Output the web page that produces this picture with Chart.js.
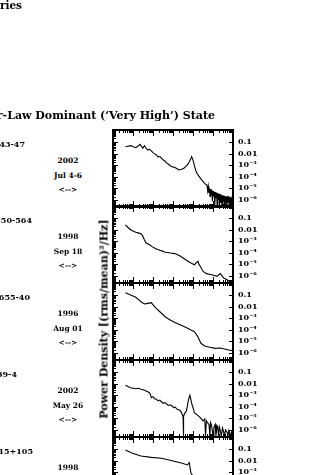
<!DOCTYPE html>
<html>
<head>
<meta charset="utf-8">
<script src="https://cdn.jsdelivr.net/npm/chart.js@4.4.1/dist/chart.umd.min.js"></script>
<style>
  body { margin: 0; background: #fff; width: 309px; height: 475px; overflow: hidden; position: relative;
         font-family: "DejaVu Serif", serif; font-weight: bold; color: #000; }
  canvas { position: absolute; }
  .t { position: absolute; white-space: nowrap; line-height: 1; }
</style>
</head>
<body>
<script>
// frequency (Hz) / power density values
const X_MIN = 1e-3, X_MAX = 1e3;
const Y_MIN = 2.5e-7, Y_MAX = 1.08;
const yTickVals = [0.1, 0.01, 1e-3, 1e-4, 1e-5, 1e-6];
const yTickLabels = ['0.1', '0.01', '10⁻³', '10⁻⁴', '10⁻⁵', '10⁻⁶'];

const obsYears = ['2002', '1998', '1996', '2002', '1998'];
const obsDays = ['Jul 4-6', 'Sep 18', 'Aug 01', 'May 26', ''];
const sources = ['4U 1543-47', 'XTE J1550-564', 'GRO J1655-40', 'GX 339-4', 'GRS 1915+105'];

// right column spectra
const p1Freq = [0.0042, 0.0055, 0.0076, 0.010, 0.0137, 0.018, 0.023, 0.027, 0.031, 0.037, 0.045, 0.055, 0.065, 0.082, 0.1, 0.12, 0.149, 0.18, 0.22, 0.27, 0.33, 0.4, 0.49, 0.6, 0.73, 0.89, 1.1, 1.32, 1.6, 1.97, 2.4, 2.9, 3.5, 4.3, 5.3, 6.5, 7.5, 8.5, 9.5, 10.5, 12, 14.3, 17, 21, 26, 32, 39, 45,
    50, 54, 58, 62, 66, 71, 76, 81, 87, 93, 100, 107, 115, 123, 132, 141, 151, 162, 174, 186, 200, 214, 229, 245, 263, 282, 302, 324, 347, 372, 398, 427, 457, 490, 525, 562, 603, 646, 692, 741, 794, 851, 912, 977];
const p1Pow = [0.039, 0.043, 0.048, 0.040, 0.032, 0.045, 0.063, 0.040, 0.029, 0.048, 0.030, 0.020, 0.024, 0.017, 0.012, 0.0095, 0.0076, 0.0050, 0.0058, 0.0039, 0.0028, 0.0022, 0.0015, 0.0012, 0.0009, 7.4e-4, 6.8e-4, 6.1e-4, 5.0e-4, 3.9e-4, 4.2e-4, 4.7e-4, 5.5e-4, 7.4e-4, 1.1e-3, 2.0e-3, 3.2e-3, 5.4e-3, 3.5e-3, 2.0e-3, 8e-4, 2.8e-4, 1.6e-4, 1.0e-4, 6e-5, 3.8e-5, 2.6e-5, 2.2e-5,
    1.8e-5, 6e-6, 1.5e-5, 4e-6, 1.1e-5, 2e-6, 9e-6, 3e-6, 8e-6, 8e-7, 6e-6, 2e-6, 5e-6, 3.5e-7, 5e-6, 1.5e-6, 4e-6, 3e-7, 4e-6, 1e-6, 3.5e-6, 3e-7, 3e-6, 6e-7, 3e-6, 3e-7, 2.5e-6, 8e-7, 2.5e-6, 3e-7, 2.2e-6, 5e-7, 2e-6, 3e-7, 2.2e-6, 6e-7, 2e-6, 3e-7, 1.8e-6, 4e-7, 2e-6, 3e-7, 1.5e-6, 5e-7];

const p2Freq = [0.0042, 0.0055, 0.0076, 0.010, 0.0137, 0.018, 0.025, 0.030, 0.037, 0.045, 0.067, 0.09, 0.12, 0.16, 0.22, 0.30, 0.40, 0.55, 0.73, 1.0, 1.32, 1.8, 2.4, 3.2, 4.3, 5.8, 7.9, 11.8, 14, 17.5, 20, 23, 32, 47, 85, 120, 155, 232, 343, 508, 760];
const p2Pow = [0.026, 0.016, 0.0098, 0.0075, 0.0058, 0.0052, 0.0044, 0.0030, 0.00135, 7e-4, 5e-4, 3.4e-4, 2.6e-4, 2.0e-4, 1.64e-4, 1.4e-4, 1.1e-4, 1.05e-4, 9.6e-5, 9.0e-5, 8.4e-5, 6.5e-5, 5e-5, 3.6e-5, 2.5e-5, 1.8e-5, 1.3e-5, 9.4e-6, 1.3e-5, 1.85e-5, 1.0e-5, 6.9e-6, 2.5e-6, 1.6e-6, 1.3e-6, 1.1e-6, 9.3e-7, 1.6e-6, 6.7e-7, 4.8e-7, 2.9e-7];

const p3Freq = [0.0042, 0.0076, 0.0137, 0.019, 0.025, 0.037, 0.055, 0.082, 0.12, 0.16, 0.22, 0.30, 0.40, 0.55, 0.73, 1.32, 2.4, 4.3, 7.9, 11.8, 17.5, 25, 38, 70, 128, 232, 420, 617, 910];
const p3Pow = [0.158, 0.1, 0.063, 0.04, 0.026, 0.0168, 0.019, 0.0217, 0.0098, 0.0060, 0.0036, 0.0022, 0.00134, 9.5e-4, 7e-4, 4.1e-4, 2.6e-4, 1.64e-4, 9.6e-5, 6.9e-5, 2.5e-5, 6.9e-6, 4.0e-6, 3.1e-6, 2.5e-6, 2.7e-6, 2.1e-6, 1.8e-6, 1.6e-6];

const p4Freq = [0.0042, 0.0076, 0.0137, 0.018, 0.025, 0.033, 0.045, 0.055, 0.067, 0.075, 0.082, 0.1, 0.12, 0.149, 0.18, 0.22, 0.27, 0.33, 0.4, 0.49, 0.6, 0.73, 0.89, 1.1, 1.3, 1.6, 1.97, 2.4, 3.0, 3.2, 3.3, 3.45, 4.0, 4.7, 6.0, 7.0, 8.9, 11.8, 17.5, 23, 32, 39, 42, 47, 55, 63, 70, 75, 85, 100, 110, 128, 140, 160, 175, 190, 210, 230, 260, 300, 330, 380, 420, 500, 560, 620, 700, 760, 850, 920];
const p4Pow = [0.0071, 0.0044, 0.0036, 0.0040, 0.0032, 0.0030, 0.0023, 0.0020, 0.00164, 0.0011, 6.1e-4, 7.5e-4, 5.0e-4, 4.4e-4, 3.2e-4, 3.8e-4, 2.6e-4, 2.0e-4, 2.3e-4, 1.64e-4, 1.3e-4, 1.5e-4, 1.17e-4, 8.5e-5, 9.5e-5, 6.1e-5, 5.5e-5, 4.4e-5, 2.0e-5, 1.15e-5, 2.2e-7, 1.6e-5, 3.0e-5, 4.4e-5, 4.4e-4, 9.8e-4, 1.64e-4, 3.1e-5, 1.85e-5, 1.15e-5, 6.0e-6, 9e-6, 3e-7, 6e-6, 4e-6, 3.1e-6, 3e-7, 4.3e-6, 2.5e-6, 3e-7, 1.6e-6, 3e-6, 3e-7, 2.2e-6, 1.4e-6, 3e-7, 1.8e-6, 1e-6, 3e-7, 1.5e-6, 8e-7, 3e-7, 1e-6, 6.7e-7, 3e-7, 9e-7, 5e-7, 2.5e-7, 6.7e-7, 4e-7];

const p5Freq = [0.0042, 0.0093, 0.025, 0.082, 0.27, 0.89, 2.9, 5.3, 6.5, 7.9, 12, 20, 50, 100, 300, 900];
const p5Pow = [0.082, 0.043, 0.025, 0.019, 0.0158, 0.0098, 0.0058, 0.0042, 0.0066, 8.5e-4, 3e-4, 1e-4, 2e-5, 5e-6, 1e-6, 5e-7];

// left column spectra (only the high-frequency tails fall inside the picture)
const l1Freq = [0.01, 0.1, 1, 5, 10, 15, 20, 24, 28, 32, 37, 42, 48, 55, 63, 70];
const l1Pow = [0.03, 0.005, 3e-4, 3e-5, 1e-5, 5e-6, 2.5e-6, 1e-6, 2e-6, 5e-7, 1.5e-6, 4e-7, 1.2e-6, 3.5e-7, 9e-7, 4e-7];
const l2Freq = [0.01, 0.1, 1, 5, 10, 15, 20, 24, 28, 32, 37, 42, 48, 55, 63, 70];
const l2Pow = [0.02, 0.004, 2e-4, 2e-5, 8e-6, 4e-6, 2e-6, 9e-7, 1.8e-6, 4e-7, 1.2e-6, 3.5e-7, 1e-6, 3e-7, 8e-7, 3.5e-7];
const l3Freq = [0.01, 0.1, 1, 5, 10, 15, 20, 24, 28, 32, 37, 42, 48, 55, 63, 70];
const l3Pow = [0.05, 0.006, 4e-4, 3e-5, 1e-5, 4e-6, 2e-6, 8e-7, 1.6e-6, 4e-7, 1.3e-6, 3.5e-7, 1.1e-6, 3e-7, 8e-7, 3.5e-7];
const l4Freq = [0.01, 0.1, 1, 5, 10, 15, 20, 24, 28, 32, 37, 42, 48, 55, 63, 70];
const l4Pow = [0.03, 0.004, 3e-4, 2e-5, 8e-6, 4e-6, 2e-6, 8e-7, 1.7e-6, 4e-7, 1.2e-6, 3.5e-7, 1e-6, 3e-7, 8e-7, 3.5e-7];
const l5Freq = [0.01, 0.1, 1, 5, 10, 20, 40, 70];
const l5Pow = [0.03, 0.005, 3e-4, 3e-5, 1e-5, 2e-6, 8e-7, 4e-7];

const rightSpectra = [[p1Freq, p1Pow], [p2Freq, p2Pow], [p3Freq, p3Pow], [p4Freq, p4Pow], [p5Freq, p5Pow]];
const leftSpectra = [[l1Freq, l1Pow], [l2Freq, l2Pow], [l3Freq, l3Pow], [l4Freq, l4Pow], [l5Freq, l5Pow]];

// layout
const panelTops = [130, 206, 283, 360, 437];
const PANEL_H = 77;
const PANEL_W = 116;
const RIGHT_X = 113;
const LEFT_X = 33 - PANEL_W;
const PAD = 12;

function logTicks(min, max) {
    const out = [];
    for (let e = Math.floor(Math.log10(min)); e <= Math.ceil(Math.log10(max)); e++) {
        for (let k = 1; k < 10; k++) {
            const v = k * Math.pow(10, e);
            if (v >= min * 0.999 && v <= max * 1.001) out.push({ v, major: k === 1 });
        }
    }
    return out;
}

// frame box with inward log tick marks on all four sides
const framePlugin = {
    id: 'frame',
    afterDatasetsDraw(chart) {
        const { ctx, chartArea: a, scales } = chart;
        const x = scales.x, y = scales.y;
        ctx.save();
        ctx.strokeStyle = '#000';
        ctx.lineWidth = 1;
        ctx.beginPath();
        logTicks(X_MIN, X_MAX).forEach(t => {
            const px = Math.round(x.getPixelForValue(t.v)) + 0.5;
            const len = t.major ? 6 : 3;
            ctx.moveTo(px, a.bottom); ctx.lineTo(px, a.bottom - len);
            ctx.moveTo(px, a.top); ctx.lineTo(px, a.top + len);
        });
        logTicks(Y_MIN, Y_MAX).forEach(t => {
            const py = Math.round(y.getPixelForValue(t.v)) + 0.5;
            ctx.moveTo(a.left, py); ctx.lineTo(a.left + (t.major ? 5 : 3), py);
            if (t.major) { ctx.moveTo(a.right, py); ctx.lineTo(a.right - 4, py); }
        });
        ctx.stroke();
        ctx.lineWidth = 2;
        ctx.strokeRect(a.left, a.top, a.right - a.left, a.bottom - a.top);
        ctx.restore();
    }
};

function makePanel(left, top, freq, pow, withLabels) {
    const canvas = document.createElement('canvas');
    const w = PANEL_W + 8 + (withLabels ? 80 : 0);
    canvas.width = w;
    canvas.height = PANEL_H + 2 * PAD;
    canvas.style.left = (left - 4) + 'px';
    canvas.style.top = (top - PAD) + 'px';
    document.body.appendChild(canvas);
    const pts = freq.map((f, i) => ({ x: f, y: pow[i] }));
    return new Chart(canvas.getContext('2d'), {
        type: 'line',
        data: { datasets: [{ data: pts, borderColor: '#000', borderWidth: 1.1, pointRadius: 0, tension: 0 }] },
        options: {
            responsive: false,
            animation: false,
            layout: { padding: { top: PAD, bottom: PAD, left: 4, right: withLabels ? 0 : 4 } },
            plugins: { legend: { display: false }, tooltip: { enabled: false } },
            scales: {
                x: { type: 'logarithmic', min: X_MIN, max: X_MAX, display: false },
                y: {
                    type: 'logarithmic', min: Y_MIN, max: Y_MAX, position: 'right',
                    display: withLabels,
                    bounds: 'data',
                    grid: { display: false, drawTicks: false },
                    border: { display: false },
                    afterBuildTicks: s => { s.ticks = yTickVals.map(v => ({ value: v })); },
                    afterFit: s => { s.width = 80; },
                    ticks: {
                        autoSkip: false, padding: 5, color: '#000',
                        font: { family: 'DejaVu Serif', size: 8, weight: 'bold' },
                        callback: (v, i) => yTickLabels[i]
                    }
                }
            }
        },
        plugins: [framePlugin]
    });
}

function addText(txt, css) {
    const d = document.createElement('div');
    d.className = 't';
    d.textContent = txt;
    Object.assign(d.style, css);
    document.body.appendChild(d);
    return d;
}

panelTops.forEach((top, i) => {
    makePanel(RIGHT_X, top, rightSpectra[i][0], rightSpectra[i][1], true);
    makePanel(LEFT_X, top, leftSpectra[i][0], leftSpectra[i][1], false);
    // observation date, centred between the columns
    const lines = [obsYears[i], obsDays[i], '<-->'];
    lines.forEach((s, k) => {
        if (!s) return;
        addText(s, { left: '37px', width: '62px', textAlign: 'center', top: (top + 27 + k * 14.5) + 'px', fontSize: '7.5px' });
    });
});

// source names of the left column, cut by the picture edge
const srcRight = [25, 32, 30, 17, 33];
sources.forEach((s, i) => {
    addText(s, { right: (309 - srcRight[i]) + 'px', top: (panelTops[i] + 10) + 'px', fontSize: '8px' });
});

addText('Steep Power-Law Dominant (\u2018Very High\u2019) State', { right: '94px', top: '110px', fontSize: '11px' });
addText('Black Hole Binaries', { right: '287px', top: '0px', fontSize: '10.5px' });

const yt = addText('Power Density [(rms/mean)\u00b2/Hz]', { left: '104px', top: '319px', fontSize: '11px' });
yt.style.transform = 'translate(-50%, -50%) rotate(-90deg)';
</script>
</body>
</html>
